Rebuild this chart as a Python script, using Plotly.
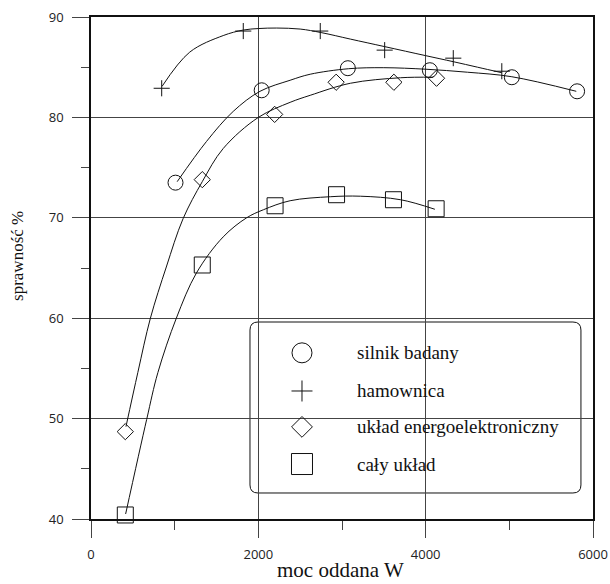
import plotly.graph_objects as go

# --- measured points -------------------------------------------------------
moc_silnik = [1010, 2040, 3070, 4050, 5030, 5810]
spr_silnik = [73.5, 82.7, 84.9, 84.7, 84.0, 82.6]

moc_ham = [845, 1820, 2740, 3510, 4330, 4910]
spr_ham = [82.9, 88.6, 88.6, 86.7, 85.9, 84.6]

moc_uklad = [410, 1330, 2195, 2930, 3620, 4130]
spr_uklad = [48.7, 73.8, 80.3, 83.5, 83.5, 83.9]

moc_caly = [410, 1330, 2200, 2935, 3615, 4125]
spr_caly = [40.4, 65.3, 71.2, 72.3, 71.8, 70.9]

# --- smoothed trend curves -------------------------------------------------
trend_silnik_x = [1030, 1380, 1700, 2020, 2380, 2620, 3080, 3500, 4000, 4500, 5030, 5800]
trend_silnik_y = [73.6, 77.6, 80.6, 82.6, 83.7, 84.3, 84.85, 84.95, 84.8, 84.5, 84.05, 82.6]

trend_ham_x = [850, 1180, 1580, 1820, 2000, 2220, 2500, 2750, 3100, 3510, 4000, 4330, 4620, 4910]
trend_ham_y = [83.1, 86.5, 88.15, 88.7, 88.85, 88.9, 88.8, 88.45, 87.8, 87.05, 86.15, 85.55, 85.0, 84.45]

trend_uklad_x = [418, 560, 710, 900, 1100, 1330, 1580, 2000, 2380, 2620, 3100, 3700, 4090]
trend_uklad_y = [49.2, 54.6, 60.0, 65.1, 69.9, 73.6, 76.9, 80.0, 81.5, 82.2, 83.4, 83.95, 84.0]

trend_caly_x = [414, 665, 800, 1020, 1260, 1580, 1860, 2060, 2380, 2860, 3220, 3700, 4110]
trend_caly_y = [40.5, 49.9, 54.6, 60.0, 64.5, 68.1, 70.0, 70.8, 71.7, 72.1, 72.15, 71.8, 70.85]

series_names = ["silnik badany", "hamownica", "układ energoelektroniczny", "cały układ"]

x_ticks = [0, 2000, 4000, 6000]
y_ticks = [40, 50, 60, 70, 80, 90]

# --- styling -----------------------------------------------------------------
INK = "#111111"
GRID = "#444444"
SERIF = "Liberation Serif, Times New Roman, serif"
SANS = "Open Sans, Arial, sans-serif"

W, H = 610, 584
ML, MR, MT, MB = 91, 17, 17, 65

series = [
    (moc_silnik, spr_silnik, trend_silnik_x, trend_silnik_y, "circle-open", 15, 20),
    (moc_ham, spr_ham, trend_ham_x, trend_ham_y, "cross-thin-open", 11.5, 15),
    (moc_uklad, spr_uklad, trend_uklad_x, trend_uklad_y, "diamond-open", 12.5, 16),
    (moc_caly, spr_caly, trend_caly_x, trend_caly_y, "square-open", 16, 21),
]

fig = go.Figure()

for mx, my, tx, ty, sym, size, _ in series:
    fig.add_trace(go.Scatter(
        x=tx, y=ty, mode="lines",
        line=dict(color=INK, width=1, shape="spline", smoothing=1.0),
        hoverinfo="skip", showlegend=False, cliponaxis=False,
    ))
    fig.add_trace(go.Scatter(
        x=mx, y=my, mode="markers",
        marker=dict(symbol=sym, size=size, color=INK, line=dict(color=INK, width=1)),
        showlegend=False, cliponaxis=False,
    ))

# --- hand-made legend box (paper units on an overlay axis pair) ---------------
box_x0, box_x1, box_y0, box_y1 = 0.3167, 0.976, 0.0518, 0.3924
rad_x, rad_y = 0.016, 0.016
legend_sym_x = 0.4203
legend_txt_x = 0.526
legend_rows = [0.331, 0.255, 0.1835, 0.1095]

path = (
    f"M {box_x0 + rad_x},{box_y0} L {box_x1 - rad_x},{box_y0} "
    f"Q {box_x1},{box_y0} {box_x1},{box_y0 + rad_y} "
    f"L {box_x1},{box_y1 - rad_y} Q {box_x1},{box_y1} {box_x1 - rad_x},{box_y1} "
    f"L {box_x0 + rad_x},{box_y1} Q {box_x0},{box_y1} {box_x0},{box_y1 - rad_y} "
    f"L {box_x0},{box_y0 + rad_y} Q {box_x0},{box_y0} {box_x0 + rad_x},{box_y0} Z"
)
fig.add_shape(type="path", path=path, xref="paper", yref="paper",
              line=dict(color=INK, width=1), fillcolor="white", layer="between")

for (mx, my, tx, ty, sym, size, lsize), row, name in zip(series, legend_rows, series_names):
    fig.add_trace(go.Scatter(
        x=[legend_sym_x], y=[row], xaxis="x2", yaxis="y2", mode="markers",
        marker=dict(symbol=sym, size=lsize, color=INK, line=dict(color=INK, width=1)),
        hoverinfo="skip", showlegend=False, cliponaxis=False,
    ))
    fig.add_annotation(x=legend_txt_x, y=row, xref="paper", yref="paper",
                       text=name, showarrow=False, xanchor="left", yanchor="middle",
                       font=dict(family=SERIF, size=19, color=INK))

# --- axis titles -------------------------------------------------------------
fig.add_annotation(x=0.498, y=-0.1295, xref="paper", yref="paper", text="moc oddana W",
                   showarrow=False, xanchor="center", yanchor="bottom",
                   font=dict(family=SERIF, size=21, color=INK))
fig.add_annotation(x=-0.1454, y=0.524, xref="paper", yref="paper", text="sprawność %",
                   showarrow=False, xanchor="center", yanchor="middle", textangle=-90,
                   font=dict(family=SERIF, size=17, color=INK))

axis_common = dict(
    showgrid=True, gridcolor=GRID, gridwidth=1, zeroline=False, automargin=False,
    showline=True, mirror=True, linecolor=INK, linewidth=1.5,
    ticks="outside", tickcolor=GRID, tickwidth=1,
    tickfont=dict(family=SANS, size=13, color="#222222"),
)

fig.update_layout(
    width=W, height=H,
    margin=dict(l=ML, r=MR, t=MT, b=MB, pad=0, autoexpand=False),
    paper_bgcolor="white", plot_bgcolor="white",
    showlegend=False,
    xaxis=dict(range=[0, 6000], tickvals=x_ticks, ticklen=17, ticklabelstandoff=6,
               minor=dict(dtick=1000, tick0=0, ticks="outside", ticklen=9,
                          tickcolor=GRID, tickwidth=1, showgrid=False),
               **axis_common),
    yaxis=dict(range=[40, 90], tickvals=y_ticks, ticklen=17, ticklabelstandoff=6,
               minor=dict(dtick=5, tick0=40, ticks="outside", ticklen=8,
                          tickcolor=GRID, tickwidth=1, showgrid=False),
               **axis_common),
    xaxis2=dict(overlaying="x", range=[0, 1], visible=False, fixedrange=True, automargin=False),
    yaxis2=dict(overlaying="y", range=[0, 1], visible=False, fixedrange=True, automargin=False),
)

fig.write_html("out.html")
